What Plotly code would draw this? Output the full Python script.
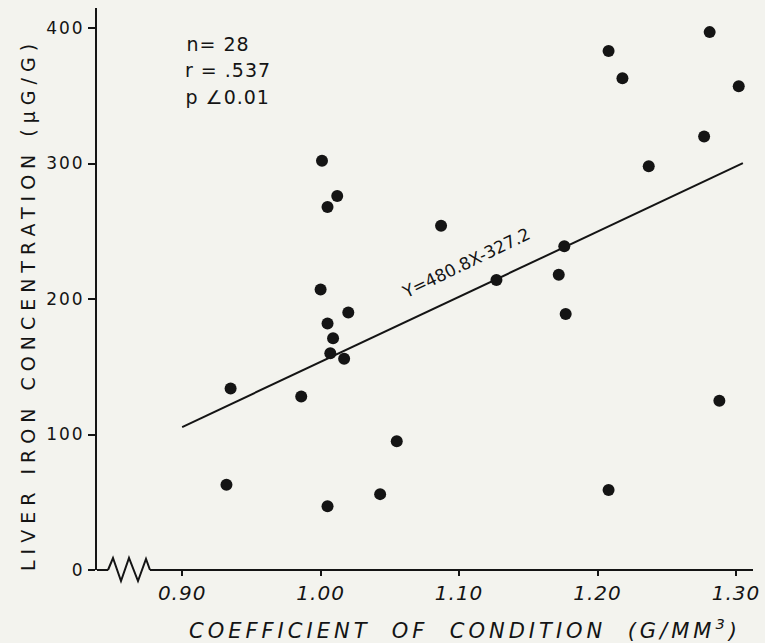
import plotly.graph_objects as go

# ---- data ----
coef_condition = [0.932, 0.935, 0.986, 1.000, 1.001, 1.005, 1.012, 1.020, 1.005, 1.009,
                  1.007, 1.017, 1.005, 1.043, 1.055, 1.087, 1.127, 1.172, 1.176, 1.177,
                  1.208, 1.218, 1.237, 1.208, 1.277, 1.281, 1.302, 1.288]
liver_iron = [63, 134, 128, 207, 302, 268, 276, 190, 182, 171,
              160, 156, 47, 56, 95, 254, 214, 218, 239, 189,
              383, 363, 298, 59, 320, 397, 357, 125]

slope, intercept = 480.8, -327.2
fit_x = [0.90, 1.305]
fit_y = [slope * v + intercept for v in fit_x]

x_ticks = [0.90, 1.00, 1.10, 1.20, 1.30]
x_tick_labels = ["0.90", "1.00", "1.10", "1.20", "1.30"]
y_ticks = [0, 100, 200, 300, 400]
y_tick_labels = ["0", "100", "200", "300", "400"]

stats_lines = ["n= 28", "r = .537", "p \u22200.01"]
eq_label = "Y=480.8X-327.2"
x_title = "COEFFICIENT  OF  CONDITION  (G/MM<sup>3</sup>)"
y_title = "LIVER IRON CONCENTRATION (\u03bcG/G)"

X_RANGE = [0.8385, 1.3123]
Y_RANGE = [0, 414.8]

BG = "#f3f3ee"
INK = "#141414"
FONT = "DejaVu Sans"

fig = go.Figure()
fig.add_trace(go.Scatter(x=fit_x, y=fit_y, mode="lines",
                         line=dict(color=INK, width=2), hoverinfo="skip", showlegend=False))
fig.add_trace(go.Scatter(x=coef_condition, y=liver_iron, mode="markers",
                         marker=dict(color=INK, size=12), showlegend=False, cliponaxis=False))

W, H = 765, 643
ml, mr, mt, mb = 97, 12, 8, 73
pw, ph = W - ml - mr, H - mt - mb

def px2paper_x(px):
    return (px - ml) / pw

def px2paper_y(py):
    return (H - mb - py) / ph

# axis break zigzag on the x axis
zz_px = [108, 113, 121, 129, 138, 146, 150]
zz_dy = [0, 12, -11, 12, -11, 11, 0]
path = ""
for i, (a, d) in enumerate(zip(zz_px, zz_dy)):
    path += ("M" if i == 0 else "L") + f"{px2paper_x(a):.5f},{d / ph:.5f} "
shapes = [
    dict(type="path", xref="paper", yref="paper", path=path.strip(),
         line=dict(color=INK, width=2)),
    dict(type="line", xref="paper", yref="paper", x0=0, x1=px2paper_x(108), y0=0, y1=0,
         line=dict(color=INK, width=2)),
    dict(type="line", xref="paper", yref="paper", x0=px2paper_x(150), x1=1, y0=0, y1=0,
         line=dict(color=INK, width=2)),
]

annotations = []
for txt, py in zip(stats_lines, [44, 70, 97]):
    annotations.append(dict(xref="paper", yref="paper", x=px2paper_x(187), y=px2paper_y(py),
                            xanchor="left", yanchor="middle", text=txt, showarrow=False,
                            font=dict(family=FONT, size=19, color=INK)))
annotations.append(dict(xref="paper", yref="paper", x=px2paper_x(466), y=px2paper_y(263),
                        text=eq_label, showarrow=False, textangle=-25.7,
                        font=dict(family=FONT, size=17, color=INK)))
annotations.append(dict(xref="paper", yref="paper", x=px2paper_x(465), y=px2paper_y(629),
                        xanchor="center", yanchor="middle",
                        text=x_title, showarrow=False,
                        font=dict(family=FONT, size=21, color=INK, style="italic")))
annotations.append(dict(xref="paper", yref="paper", x=px2paper_x(28), y=px2paper_y(305),
                        xanchor="center", yanchor="middle", textangle=-90,
                        text=y_title, showarrow=False,
                        font=dict(family=FONT, size=19, color=INK)))

fig.update_layout(
    width=W, height=H,
    margin=dict(l=ml, r=mr, t=mt, b=mb),
    paper_bgcolor=BG, plot_bgcolor=BG,
    shapes=shapes, annotations=annotations,
    xaxis=dict(range=X_RANGE, tickvals=x_ticks, ticktext=x_tick_labels,
               showgrid=False, zeroline=False, showline=False,
               ticks="outside", ticklen=5, tickwidth=2, tickcolor=INK,
               tickfont=dict(family=FONT, size=20, color=INK, style="italic")),
    yaxis=dict(range=Y_RANGE, tickvals=y_ticks, ticktext=y_tick_labels,
               showgrid=False, zeroline=False, showline=True, linewidth=2, linecolor=INK,
               ticks="outside", ticklen=7, tickwidth=2, tickcolor=INK,
               tickfont=dict(family=FONT, size=17, color=INK)),
)

post = """
document.body.style.margin = '0';
document.body.style.background = '#f3f3ee';
var gd = document.querySelector('.js-plotly-plot');
var spacing = {'COEFF': '4px', 'LIVER': '6px', 'n=': '1px', 'r =': '1px', 'p ': '1px'};
gd.querySelectorAll('text.annotation-text').forEach(function (t) {
  var s = t.textContent;
  for (var k in spacing) { if (s.indexOf(k) === 0) { t.style.letterSpacing = spacing[k]; } }
});
gd.querySelectorAll('.xtick text').forEach(function (t) { t.style.letterSpacing = '1px'; });
gd.querySelectorAll('.ytick text').forEach(function (t) { t.style.letterSpacing = '2px'; });
"""

fig.write_html("out.html", post_script=post, config={"displayModeBar": False})
